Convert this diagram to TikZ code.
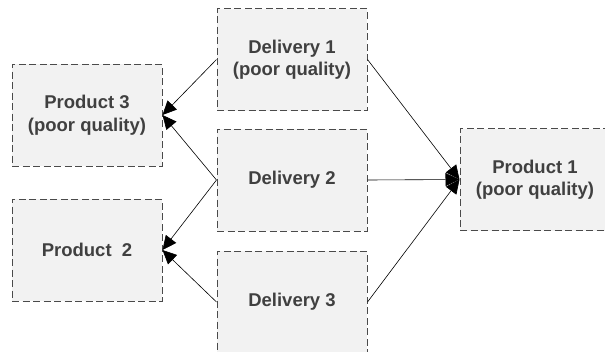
\documentclass[tikz,border=0pt]{standalone}
\usepackage{fontspec}
\setmainfont{Liberation Sans}
\usetikzlibrary{arrows.meta}
\definecolor{boxfill}{HTML}{F2F2F2}
\definecolor{boxline}{HTML}{4A4A4A}
\definecolor{txt}{HTML}{404040}
\begin{document}
\begin{tikzpicture}[x=1pt,y=-1pt,
  box/.style={draw=boxline,fill=boxfill,line width=1pt,dash pattern=on 7pt off 3.5pt,
    minimum width=150pt,minimum height=102pt,inner sep=0pt,align=center,
    text=txt,font=\fontsize{18.5}{22.5}\selectfont\bfseries},
  conn/.style={line width=0.6pt,-{Triangle[length=14pt,width=13pt]}}]
\useasboundingbox (0,0) rectangle (605,351);
\node[box] (p3) at (87,115) {Product 3\\(poor quality)};
\node[box] (p2) at (87,250) {Product\ \ 2};
\node[box] (d1) at (292,59.5) {Delivery 1\\(poor quality)};
\node[box] (d2) at (292,180) {Delivery 2};
\node[box] (d3) at (292,302) {Delivery 3};
\node[box] (p1) at (535,179.5) {Product 1\\(poor quality)};
\draw[conn] (d1.west) -- (p3.east);
\draw[conn] (d2.west) -- (p3.east);
\draw[conn] (d2.west) -- (p2.east);
\draw[conn] (d3.west) -- (p2.east);
\draw[conn] (d1.east) -- (p1.west);
\draw[conn] (d2.east) -- (p1.west);
\draw[conn] (d3.east) -- (p1.west);
\end{tikzpicture}
\end{document}
